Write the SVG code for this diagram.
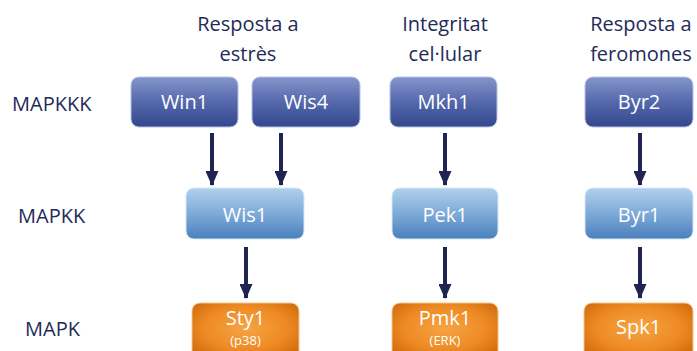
<svg xmlns="http://www.w3.org/2000/svg" width="697" height="351" viewBox="0 0 697 351">
<defs>
<linearGradient id="gK" x1="0" y1="0" x2="0" y2="1"><stop offset="0" stop-color="#8595cc"/><stop offset="0.5" stop-color="#5468ac"/><stop offset="1" stop-color="#34478c"/></linearGradient>
<linearGradient id="gKK" x1="0" y1="0" x2="0" y2="1"><stop offset="0" stop-color="#b0d0ec"/><stop offset="0.5" stop-color="#7eaad8"/><stop offset="1" stop-color="#4a80bc"/></linearGradient>
<radialGradient id="gM" cx="0.5" cy="0.45" r="0.65"><stop offset="0" stop-color="#f5a444"/><stop offset="0.6" stop-color="#ee8a24"/><stop offset="1" stop-color="#cf6a0c"/></radialGradient>
<marker id="ah" markerWidth="15" markerHeight="13" refX="14" refY="6.5" orient="auto" markerUnits="userSpaceOnUse" viewBox="0 0 15 13"><path d="M0,0 L15,6.5 L0,13 Z" fill="#1f2452"/></marker>
</defs>
<style>
.lbl{font-family:"Open Sans","Liberation Sans",sans-serif;font-size:20px;fill:#232b58}
.bt{font-family:"Open Sans","Liberation Sans",sans-serif;font-size:20px;fill:#ffffff;text-anchor:middle}
.st{font-family:"Open Sans","Liberation Sans",sans-serif;font-size:13px;fill:#ffffff;text-anchor:middle}
.k{fill:url(#gK);stroke:#b8c2e4;stroke-width:1}
.kk{fill:url(#gKK);stroke:#d6e6f6;stroke-width:1}
.m{fill:url(#gM);stroke:#f6c48a;stroke-width:1}
.ar{stroke:#1f2452;stroke-width:4;fill:none;marker-end:url(#ah)}
</style>
<g id="titles">
<text class="lbl" x="248" y="31" text-anchor="middle">Resposta a</text>
<text class="lbl" x="248" y="61" text-anchor="middle">estrès</text>
<text class="lbl" x="445" y="31" text-anchor="middle">Integritat</text>
<text class="lbl" x="445" y="61" text-anchor="middle">cel·lular</text>
<text class="lbl" x="641" y="31" text-anchor="middle">Resposta a</text>
<text class="lbl" x="641" y="61" text-anchor="middle">feromones</text>
<text class="lbl" x="12" y="111">MAPKKK</text>
<text class="lbl" x="18" y="223">MAPKK</text>
<text class="lbl" x="25" y="336">MAPK</text>
</g>
<g id="connectors">
<line class="ar" x1="212" y1="133" x2="212" y2="185"/>
<line class="ar" x1="281" y1="133" x2="281" y2="185"/>
<line class="ar" x1="445" y1="133" x2="445" y2="185"/>
<line class="ar" x1="640" y1="133" x2="640" y2="185"/>
<line class="ar" x1="246" y1="247" x2="246" y2="298"/>
<line class="ar" x1="445" y1="247" x2="445" y2="298"/>
<line class="ar" x1="640" y1="247" x2="640" y2="298"/>
</g>
<g id="win1"><rect class="k" x="131" y="77" width="107" height="50" rx="8"/><text class="bt" x="184.5" y="109">Win1</text></g>
<g id="wis4"><rect class="k" x="252" y="77" width="108" height="50" rx="8"/><text class="bt" x="306" y="109">Wis4</text></g>
<g id="mkh1"><rect class="k" x="390" y="77" width="107" height="50" rx="8"/><text class="bt" x="443.5" y="109">Mkh1</text></g>
<g id="byr2"><rect class="k" x="585" y="77" width="108" height="50" rx="8"/><text class="bt" x="639" y="109">Byr2</text></g>
<g id="wis1"><rect class="kk" x="186" y="188" width="118" height="51" rx="8"/><text class="bt" x="245" y="222">Wis1</text></g>
<g id="pek1"><rect class="kk" x="392" y="188" width="106" height="51" rx="8"/><text class="bt" x="445" y="222">Pek1</text></g>
<g id="byr1"><rect class="kk" x="585" y="188" width="108" height="51" rx="8"/><text class="bt" x="639" y="222">Byr1</text></g>
<g id="sty1"><rect class="m" x="192" y="303" width="107" height="56" rx="8"/><text class="bt" x="245.5" y="325">Sty1</text><text class="st" x="245.5" y="345">(p38)</text></g>
<g id="pmk1"><rect class="m" x="392" y="303" width="106" height="56" rx="8"/><text class="bt" x="445" y="325">Pmk1</text><text class="st" x="445" y="345">(ERK)</text></g>
<g id="spk1"><rect class="m" x="584" y="303" width="109" height="56" rx="8"/><text class="bt" x="638.5" y="334">Spk1</text></g>
</svg>
